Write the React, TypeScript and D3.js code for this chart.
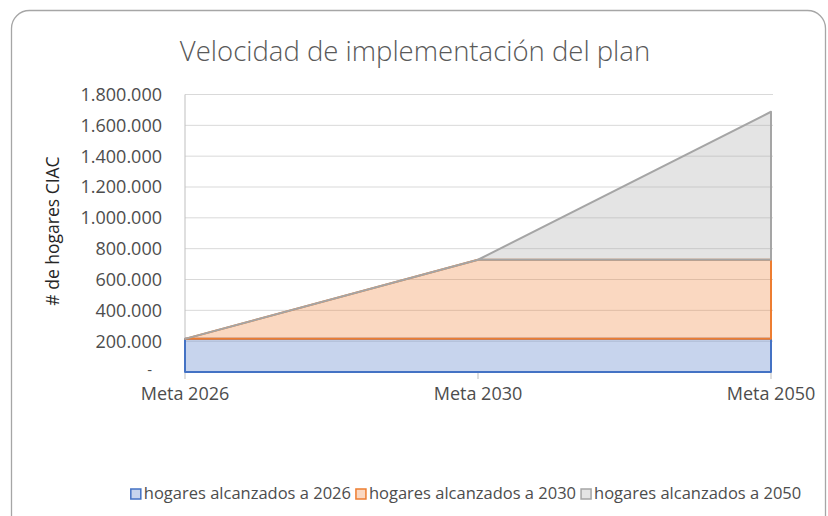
import React, { useEffect, useRef } from "react";
import * as d3 from "d3";

const categories = ["Meta 2026", "Meta 2030", "Meta 2050"];
const hogares2026 = [215000, 215000, 215000];
const hogares2030 = [0, 513000, 513000];
const hogares2050 = [0, 0, 960000];
const seriesNames = [
  "hogares alcanzados a 2026",
  "hogares alcanzados a 2030",
  "hogares alcanzados a 2050",
];
const yTicks = [0, 200000, 400000, 600000, 800000, 1000000, 1200000, 1400000, 1600000, 1800000];
const titleText = "Velocidad de implementación del plan";
const yAxisTitle = "# de hogares CIAC";

const lineColors = ["#4472C4", "#ED7D31", "#A5A5A5"];

export default function App() {
  const ref = useRef<SVGSVGElement | null>(null);

  useEffect(() => {
    const svg = d3.select(ref.current);
    svg.selectAll("*").remove();
    const font = "'Open Sans', 'Noto Sans', sans-serif";

    // outer rounded border
    svg.append("rect").attr("class", "frame").attr("x", 11.5).attr("y", 10.5).attr("width", 814).attr("height", 540)
      .attr("rx", 18).attr("fill", "#fff").attr("stroke", "#A6A6A6").attr("stroke-width", 1.3);

    const x = d3.scalePoint<string>().domain(categories).range([185, 771]);
    const y = d3.scaleLinear().domain([0, 1800000]).range([372, 94.5]);

    const locale = d3.formatLocale({ decimal: ",", thousands: ".", grouping: [3], currency: ["", ""] });
    const fmt = locale.format(",");

    // title
    svg.append("text").attr("x", 415).attr("y", 61).attr("text-anchor", "middle")
      .attr("font-family", font).attr("font-size", 27.5).attr("font-weight", 300).attr("fill", "#595959")
      .text(titleText);

    // gridlines
    svg.append("g").selectAll("line").data(yTicks.filter(d => d > 0)).join("line")
      .attr("x1", 185).attr("x2", 773).attr("y1", d => y(d)).attr("y2", d => y(d))
      .attr("stroke", "#D9D9D9").attr("stroke-width", 1);

    // x axis line
    svg.append("line").attr("x1", 185).attr("x2", 771).attr("y1", 372.5).attr("y2", 372.5)
      .attr("stroke", "#BFBFBF").attr("stroke-width", 1);

    // y axis line
    svg.append("line").attr("x1", 185).attr("x2", 185).attr("y1", y(1800000)).attr("y2", y(0))
      .attr("stroke", "#BFBFBF").attr("stroke-width", 1);

    // y tick labels
    svg.append("g").selectAll("text").data(yTicks).join("text")
      .attr("x", d => (d === 0 ? 152 : 162)).attr("y", d => (d === 0 ? y(d) - 2 : y(d))).attr("dy", "0.36em")
      .attr("text-anchor", "end").attr("font-family", font)
      .attr("font-size", d => (d === 0 ? 15 : 18)).attr("fill", "#4D4D4D")
      .text(d => (d === 0 ? "-" : fmt(d)));

    // y axis title
    svg.append("text").attr("transform", "translate(59,231) rotate(-90)").attr("text-anchor", "middle")
      .attr("font-family", font).attr("font-size", 17.5).attr("fill", "#262626").text(yAxisTitle);

    // stacked areas
    const table = categories.map((c, i) => ({ cat: c, s0: hogares2026[i], s1: hogares2030[i], s2: hogares2050[i] }));
    const stack = d3.stack<any>().keys(["s0", "s1", "s2"]);
    const layers = stack(table);
    const area = d3.area<any>()
      .x((d: any) => x(d.data.cat) as number)
      .y0((d: any) => y(d[0]))
      .y1((d: any) => y(d[1]));

    svg.append("g").selectAll("path").data(layers).join("path")
      .attr("d", (l: any) => area(l) as string)
      .attr("fill", (_: any, i: number) => lineColors[i]).attr("fill-opacity", 0.3)
      .attr("stroke", (_: any, i: number) => lineColors[i]).attr("stroke-width", 2)
      .attr("stroke-linejoin", "round");

    // x ticks
    svg.append("g").selectAll("line").data(categories).join("line")
      .attr("x1", d => x(d) as number).attr("x2", d => x(d) as number).attr("y1", 373).attr("y2", 379)
      .attr("stroke", "#BFBFBF").attr("stroke-width", 1);

    svg.append("g").selectAll("text").data(categories).join("text")
      .attr("x", d => x(d) as number).attr("y", 400).attr("text-anchor", "middle")
      .attr("font-family", font).attr("font-size", 18).attr("fill", "#4D4D4D").text(d => d);

    // legend
    const lg = svg.append("g");
    const items = lg.selectAll("g").data(seriesNames).join("g");
    items.append("rect").attr("width", 10).attr("height", 10).attr("y", 489)
      .attr("fill", (_, i) => lineColors[i]).attr("fill-opacity", 0.3)
      .attr("stroke", (_, i) => lineColors[i]).attr("stroke-width", 1.5);
    const texts = items.append("text").attr("y", 499).attr("font-family", font).attr("font-size", 16.5)
      .attr("fill", "#4D4D4D").text(d => d);
    const widths: number[] = [];
    texts.each(function () { widths.push((this as SVGTextElement).getComputedTextLength()); });
    const itemW = widths.map(w => 10 + 3 + w);
    const gap = 5;
    const total = d3.sum(itemW) + gap * (itemW.length - 1);
    let cx = 466 - total / 2;
    items.each(function (_, i) {
      const g = d3.select(this);
      g.select("rect").attr("x", cx);
      g.select("text").attr("x", cx + 13);
      cx += itemW[i] + gap;
    });
  }, []);

  return (
    <svg ref={ref} width={828} height={516}
      style={{ position: "absolute", left: 0, top: 0, background: "#fff" }} />
  );
}
